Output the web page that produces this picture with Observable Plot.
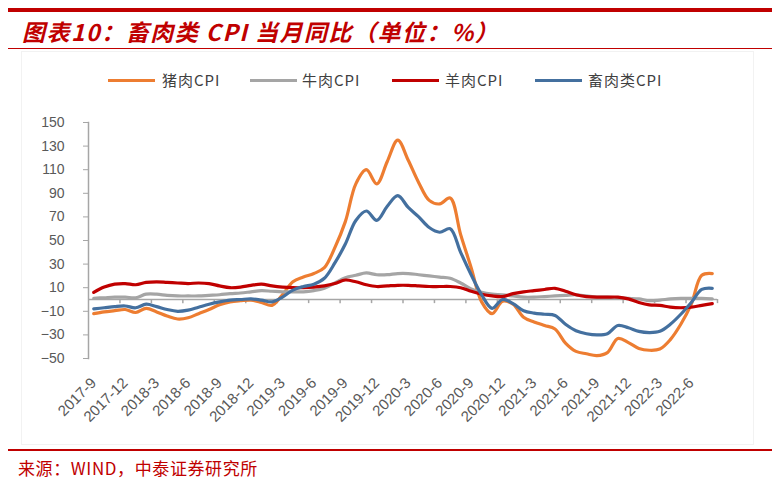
<!DOCTYPE html>
<html><head><meta charset="utf-8">
<script src="https://cdn.jsdelivr.net/npm/d3@7"></script>
<script src="https://cdn.jsdelivr.net/npm/@observablehq/plot@0.6"></script>
<style>
body{margin:0;background:#fff;}
#wrap{position:relative;width:781px;height:484px;overflow:hidden;font-family:"Noto Sans CJK SC",sans-serif;}
.abs{position:absolute;}
.title{left:22px;top:16px;font-size:23px;font-weight:bold;font-style:italic;color:#C00000;letter-spacing:1.5px;white-space:nowrap;line-height:30px;}
.lg{position:absolute;top:70px;font-size:15px;line-height:20px;color:#404040;white-space:nowrap;letter-spacing:1px;}
.ll{position:absolute;top:79px;width:47px;height:3px;}
.foot{left:18px;top:456px;font-size:17px;line-height:24px;color:#C00000;white-space:nowrap;letter-spacing:0.6px;}
#chart{position:absolute;left:0;top:60px;}
</style></head>
<body><div id="wrap">
<div class="abs" style="left:8px;top:8px;width:764px;height:3.5px;background:#C00000"></div>
<div class="abs title">图表10：畜肉类 CPI 当月同比（单位：%）</div>
<div class="abs" style="left:8px;top:47.5px;width:764px;height:1.5px;background:#C00000"></div>
<div class="abs" style="left:21px;top:51px;width:731px;height:392px;border:1px solid #f2f2f2"></div>
<div id="legend"></div>
<div id="chart"></div>
<div class="abs" style="left:8px;top:449px;width:764px;height:1.5px;background:#C00000"></div>
<div class="abs foot">来源：WIND，中泰证券研究所</div>
</div>
<script>
const months = ["2017-9","2017-10","2017-11","2017-12","2018-1","2018-2","2018-3","2018-4","2018-5","2018-6","2018-7","2018-8","2018-9","2018-10","2018-11","2018-12","2019-1","2019-2","2019-3","2019-4","2019-5","2019-6","2019-7","2019-8","2019-9","2019-10","2019-11","2019-12","2020-1","2020-2","2020-3","2020-4","2020-5","2020-6","2020-7","2020-8","2020-9","2020-10","2020-11","2020-12","2021-1","2021-2","2021-3","2021-4","2021-5","2021-6","2021-7","2021-8","2021-9","2021-10","2021-11","2021-12","2022-1","2022-2","2022-3","2022-4","2022-5","2022-6","2022-7","2022-8"];
const seriesNames = ["猪肉CPI","牛肉CPI","羊肉CPI","畜肉类CPI"];
const seriesColors = ["#ED7D31","#A5A5A5","#C00000","#44709F"];
const pork = [-12,-10.5,-9.5,-8.5,-11,-7.5,-10.5,-14,-16.5,-15.5,-12,-8.5,-4.5,-2,-1,-0.5,-2.5,-5,4,15,19,22,27,44,66,98,110,98,117,135,118,99,84,81,86,55,27,-2,-12,-1.5,-4,-15,-19,-22,-25,-37,-44,-46,-47.5,-45,-33,-36.5,-41.5,-43,-42,-34,-21,-4,20.5,22];
const beef = [1,1.5,2,2,1.5,4.5,4.5,3.5,3,3,3,3.5,4,5,5.5,6.5,7.5,7,6.5,6.5,6.5,7.5,9.5,14,18.5,20.5,22.5,21,21,22,22,21,20,19,18,14,9,6,4.5,4,3,2,2,2.5,3,3.5,4,3,2,2,1.5,1,0.5,-1,-0.5,0.5,1,1,1,0.5];
const mutton = [6,10.5,13,13.5,12.5,14.5,15,14.5,14,13.5,14,13.5,11.5,10,10.5,12,13,11.5,10.5,10,10,10.5,11.5,13.5,16.5,15,12.5,11,11.5,12,12,11.5,11,11,11,10,7,4.5,3,2.5,5,6.5,7.5,8.5,9.5,7,4,2.5,2,2,2,0.5,-2.5,-4.5,-5,-6.5,-7,-6.5,-5,-3.5];
const livestock = [-8,-7,-6,-5.5,-7,-4,-6,-8.5,-10,-9,-6.5,-4,-2,-0.5,0,0.5,-0.5,-2,2,8,11,13,18,31,47,67,75,67,79,88,78,70,61,57,60,40,21,4,-7.5,0,-3.5,-9.5,-11.5,-12.5,-13.5,-21,-26.5,-29,-30,-29,-22,-24,-27,-28,-27,-21,-12.5,-2.5,8.5,9.5];
const yTicks = [-50,-30,-10,10,30,50,70,90,110,130,150];
const labelIndex = d3.range(0, months.length, 3);
const tickBounds = d3.range(2.5, months.length, 3);

const values = [pork, beef, mutton, livestock];
const table = [];
values.forEach((arr, s) => arr.forEach((v, i) => table.push({i, v, series: seriesNames[s]})));

// legend
const legendPos = [[108,162],[250,302],[392,445],[535,588]];
const legend = document.getElementById("legend");
seriesNames.forEach((n, k) => {
  const l = document.createElement("div");
  l.className = "ll"; l.style.left = legendPos[k][0] + "px"; l.style.background = seriesColors[k];
  legend.appendChild(l);
  const t = document.createElement("div");
  t.className = "lg"; t.style.left = legendPos[k][1] + "px"; t.textContent = n;
  legend.appendChild(t);
});

const axisGray = "#A6A6A6";
const chart = Plot.plot({
  width: 781, height: 380,
  marginLeft: 88, marginRight: 64, marginTop: 62, marginBottom: 82,
  x: {domain: [-0.5, months.length - 0.5], axis: null},
  y: {domain: [-50, 150], axis: null},
  color: {domain: seriesNames, range: seriesColors},
  style: {fontFamily: "'Liberation Sans', Arial, sans-serif", fontSize: "15px", color: "#595959", background: "transparent", overflow: "visible"},
  marks: [
    Plot.frame({anchor: "left", stroke: axisGray, strokeWidth: 1.5}),
    Plot.axisY({ticks: yTicks, label: null, tickSize: 5, tickPadding: 19, stroke: axisGray, fill: "#595959", fontSize: 14}),
    Plot.ruleY([0], {stroke: axisGray, strokeWidth: 1.5}),
    Plot.ruleX(tickBounds, {x: d => d, y1: 0, y2: -3.5, stroke: axisGray, strokeWidth: 1.5}),
    Plot.axisX({ticks: labelIndex, label: null, tickFormat: i => months[i], tickRotate: -45, tickSize: 0, tickPadding: 22, fill: "#595959", fontSize: 15}),
    Plot.line(table, {x: "i", y: "v", z: "series", stroke: "series", curve: "catmull-rom", strokeWidth: 3.2})
  ]
});
document.getElementById("chart").appendChild(chart);
</script>
</body></html>
